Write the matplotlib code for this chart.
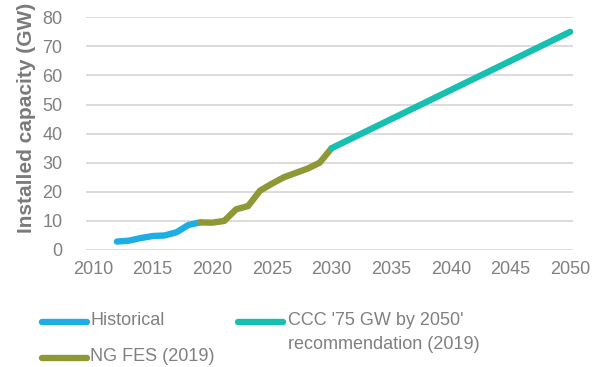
import matplotlib
matplotlib.use('Agg')
import matplotlib.pyplot as plt
from matplotlib.lines import Line2D

# installed capacity, GW
hist_years = [2012, 2013, 2014, 2015, 2016, 2017, 2018, 2019]
hist_gw = [2.9, 3.2, 4.1, 4.8, 5.0, 6.1, 8.6, 9.5]

fes_years = [2019, 2020, 2021, 2022, 2023, 2024, 2025, 2026, 2027, 2028, 2029, 2030]
fes_gw = [9.5, 9.4, 10.0, 14.0, 15.1, 20.4, 22.8, 25.0, 26.5, 28.0, 30.0, 35.0]

ccc_years = [2030, 2035, 2040, 2045, 2050]
ccc_gw = [35, 45, 55, 65, 75]

xticks = list(range(2010, 2051, 5))
yticks = list(range(0, 81, 10))

labels = ['Historical', 'NG FES (2019)', "CCC '75 GW by 2050'\nrecommendation (2019)"]
colors = ['#1eaee6', '#8e9935', '#17bfb1']

grey = '#808080'
tick_font = dict(family=['Liberation Sans', 'DejaVu Sans'], size=13, color=grey)

fig = plt.figure(figsize=(6.06, 3.67), dpi=100)
ax = fig.add_axes([86/606, 1-250/367, (573-86)/606, (250-17.3)/367])

lw = 4.6
for xs, ys, c in zip([hist_years, fes_years, ccc_years], [hist_gw, fes_gw, ccc_gw], colors):
    ax.plot(xs, ys, color=c, lw=lw, solid_capstyle='round', solid_joinstyle='round',
            clip_on=False, zorder=3)

ax.set_xlim(2009.41, 2050.24)
ax.set_ylim(0, 80)
ax.set_xticks(xticks)
ax.set_yticks(yticks)
ax.set_xticklabels([str(t) for t in xticks], **tick_font)
ax.set_yticklabels([str(t) for t in yticks], **tick_font)
ax.tick_params(length=0)
ax.tick_params(axis='y', pad=17)
ax.tick_params(axis='x', pad=8)
for s in ax.spines.values():
    s.set_visible(False)
ax.grid(axis='y', color='#d9d9d9', lw=1.3)
ax.set_axisbelow(True)

fig.text(27/606, 1-118/367, 'Installed capacity (GW)', rotation=90, ha='center', va='center',
         family=['Liberation Sans', 'DejaVu Sans'], weight='bold', size=15, color='#7a7a7a')

# legend
entries = [(42, 87, 322, 90), (42, 87, 358, 90), (238, 283, 322, 288)]
for (x0, x1, yh, xt), lab, c in zip(entries, labels, colors):
    fig.add_artist(Line2D([x0/606, x1/606], [1-yh/367, 1-yh/367], color=c, lw=lw,
                          solid_capstyle='round', transform=fig.transFigure))
    fig.text(xt/606, 1-(yh-10)/367, lab, ha='left', va='top', linespacing=1.55, **tick_font)

fig.savefig('out.png', dpi=100)
